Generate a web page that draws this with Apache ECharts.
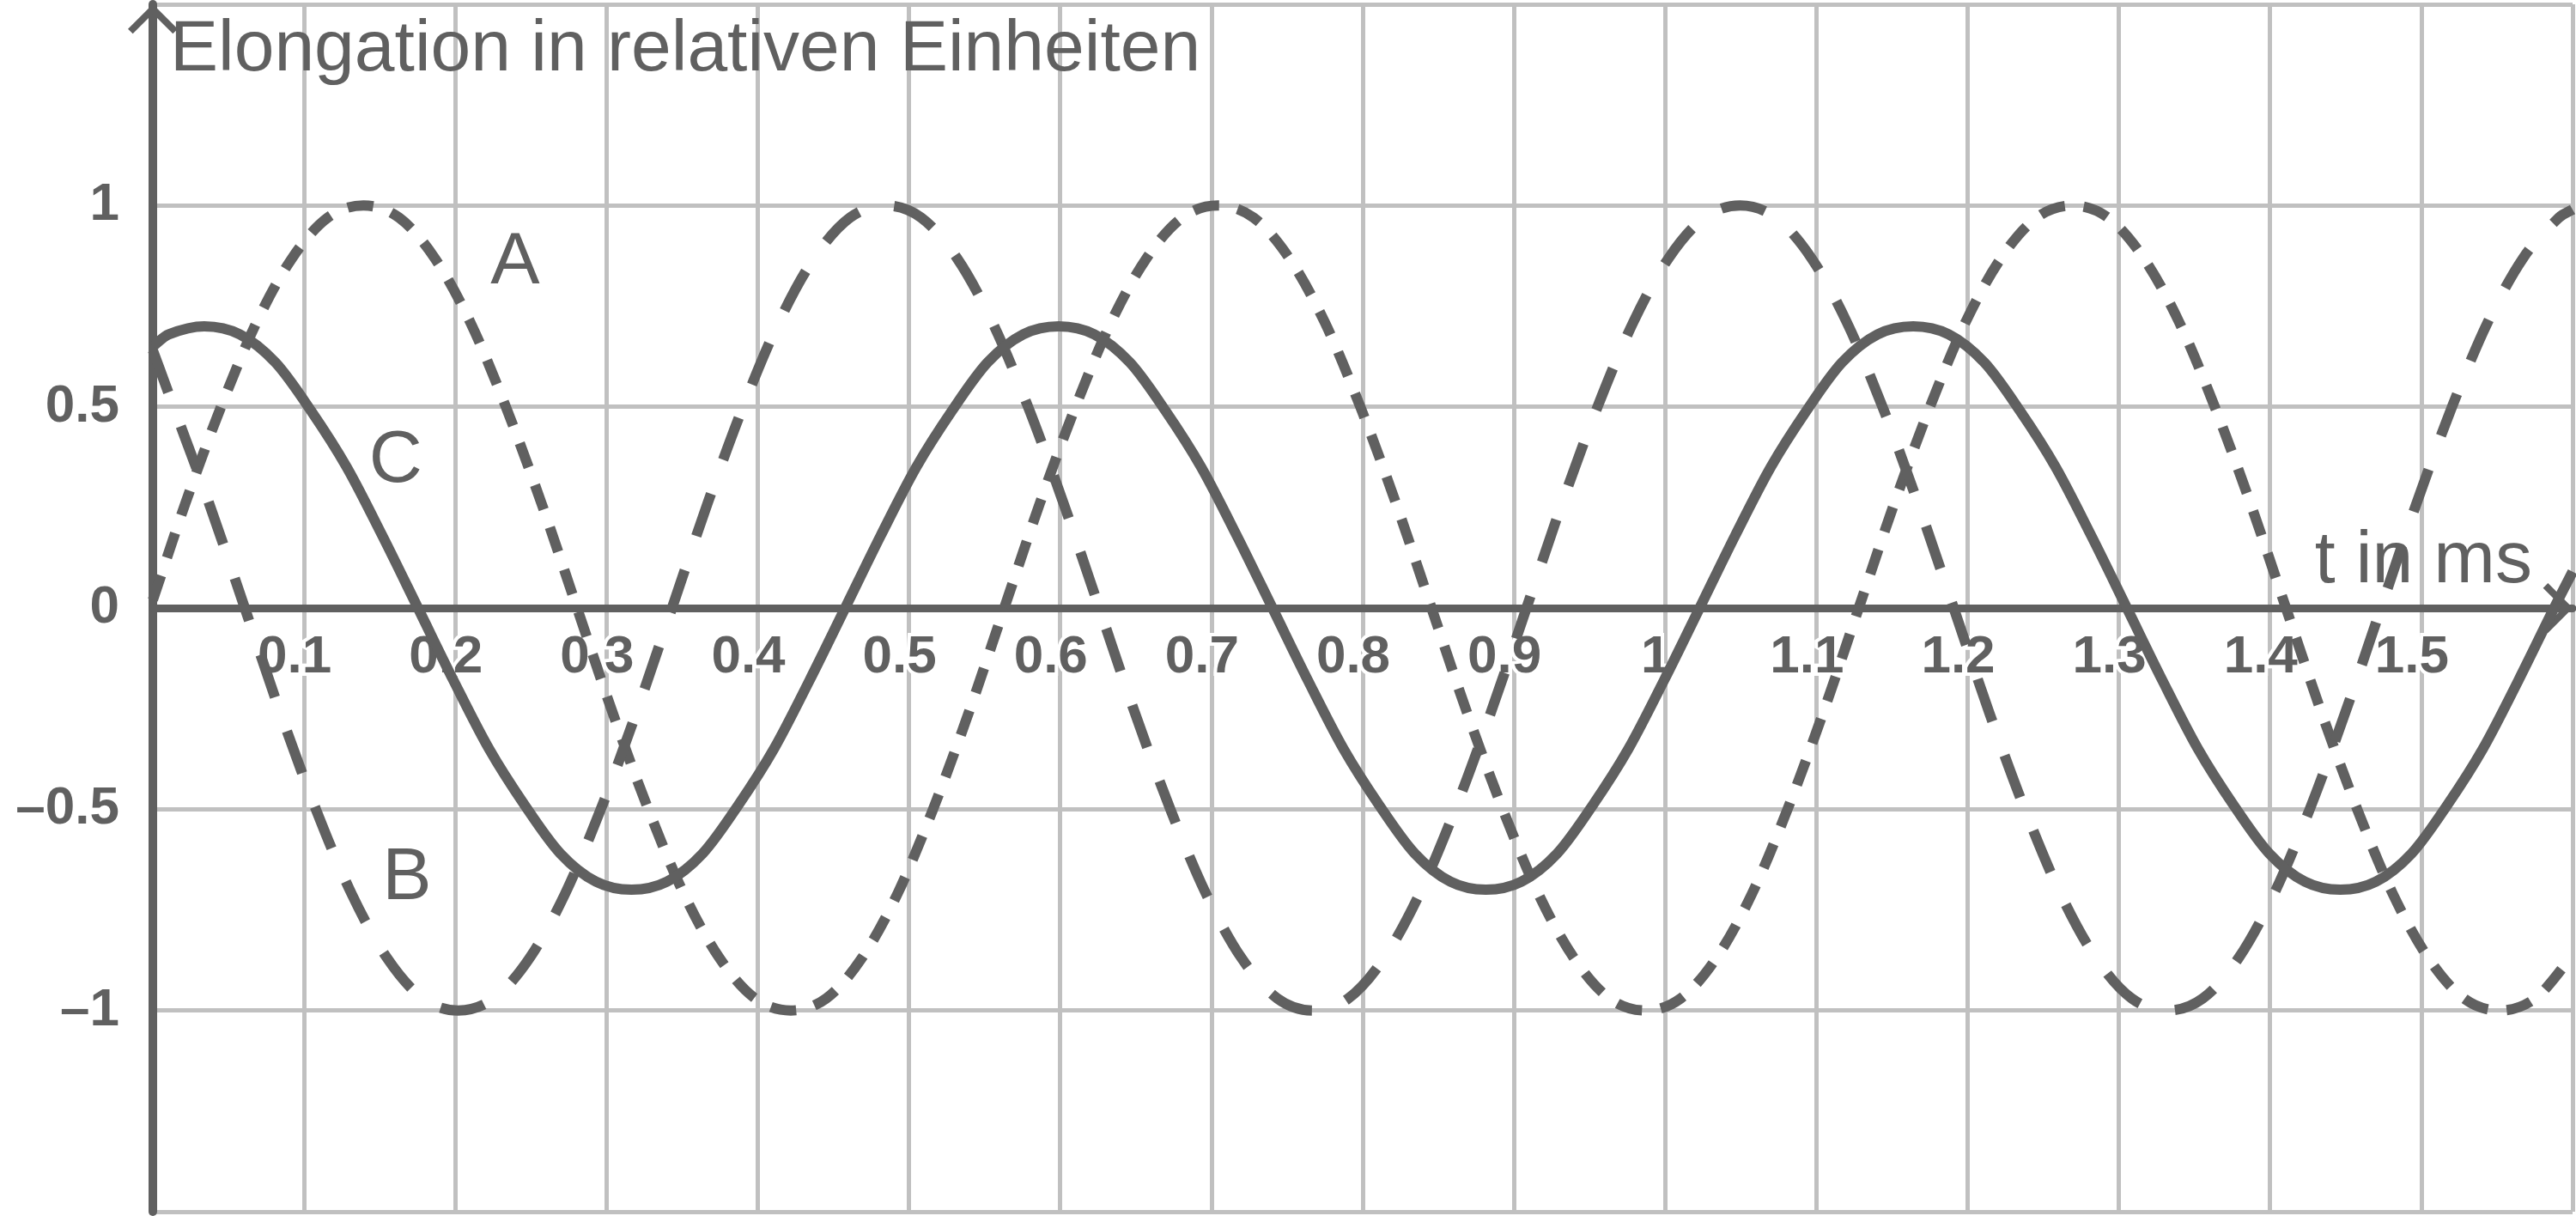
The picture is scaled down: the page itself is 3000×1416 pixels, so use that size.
<!DOCTYPE html>
<html>
<head>
<meta charset="utf-8">
<script src="https://cdn.jsdelivr.net/npm/echarts@6/dist/echarts.min.js"></script>
<style>
  html, body { margin: 0; padding: 0; background: #ffffff; }
  #chart { width: 3000px; height: 1416px; }
</style>
</head>
<body>
<div id="chart"></div>
<script>
// Curve A (short dashes): sample times (ms) and elongation
var timesA = [0,0.0215,0.0451,0.0686,0.0922,0.1157,0.1393,0.1628,0.1863,0.2099,0.2334,0.2570,0.2805,0.3040,0.3276,0.3511,
  0.3747,0.3982,0.4218,0.4453,0.4688,0.4924,0.5159,0.5395,0.5630,0.5865,0.6101,0.6336,0.6572,0.6807,0.7043,0.7278,
  0.7513,0.7749,0.7984,0.8220,0.8455,0.8690,0.8926,0.9161,0.9397,0.9632,0.9868,1.0103,1.0338,1.0574,1.0809,1.1045,
  1.1280,1.1515,1.1751,1.1986,1.2222,1.2457,1.2693,1.2928,1.3163,1.3399,1.3634,1.3870,1.4105,1.4340,1.4576,1.4811,
  1.5047,1.5282,1.5518,1.5753,1.5988];
var valuesA = [0.02,
  0.26,0.5,0.71,0.87,0.97,1,0.97,0.87,0.71,0.5,0.26,0,-0.26,-0.5,-0.71,-0.87,-0.97,-1,-0.97,-0.87,-0.71,-0.5,-0.26,0,
  0.26,0.5,0.71,0.87,0.97,1,0.97,0.87,0.71,0.5,0.26,0,-0.26,-0.5,-0.71,-0.87,-0.97,-1,-0.97,-0.87,-0.71,-0.5,-0.26,0,
  0.26,0.5,0.71,0.87,0.97,1,0.97,0.87,0.71,0.5,0.26,0,-0.26,-0.5,-0.71,-0.87,-0.97,-1,-0.97,-0.87];

// Curve B (long dashes)
var timesB = [0,0.0137,0.0372,0.0608,0.0843,0.1078,0.1314,0.1549,0.1785,
  0.2020,0.2255,0.2491,0.2726,0.2962,0.3197,0.3433,0.3668,0.3903,0.4139,0.4374,0.4610,0.4845,0.5080,0.5316,0.5551,
  0.5787,0.6022,0.6258,0.6493,0.6728,0.6964,0.7199,0.7435,0.7670,0.7905,0.8141,0.8376,0.8612,0.8847,0.9083,0.9318,
  0.9553,0.9789,1.0024,1.0260,1.0495,1.0730,1.0966,1.1201,1.1437,1.1672,1.1908,1.2143,1.2378,1.2614,1.2849,1.3085,
  1.3320,1.3555,1.3791,1.4026,1.4262,1.4497,1.4733,1.4968,1.5203,1.5439,1.5674,1.5910,1.6];
var valuesB = [0.64,0.5,0.26,0,-0.26,-0.5,-0.71,-0.87,-0.97,
  -1,-0.97,-0.87,-0.71,-0.5,-0.26,0,0.26,0.5,0.71,0.87,0.97,1,0.97,0.87,0.71,0.5,0.26,0,-0.26,-0.5,-0.71,-0.87,-0.97,
  -1,-0.97,-0.87,-0.71,-0.5,-0.26,0,0.26,0.5,0.71,0.87,0.97,1,0.97,0.87,0.71,0.5,0.26,0,-0.26,-0.5,-0.71,-0.87,-0.97,
  -1,-0.97,-0.87,-0.71,-0.5,-0.26,0,0.26,0.5,0.71,0.87,0.97,0.99];

// Curve C (solid)
var timesC = [0,0.0105,
  0.0340,0.0575,0.0811,0.1046,0.1282,0.1517,0.1753,0.1988,0.2223,0.2459,0.2694,0.2930,0.3165,0.3400,0.3636,0.3871,
  0.4107,0.4342,0.4578,0.4813,0.5048,0.5284,0.5519,0.5755,0.5990,0.6225,0.6461,0.6696,0.6932,0.7167,0.7403,0.7638,
  0.7873,0.8109,0.8344,0.8580,0.8815,0.9050,0.9286,0.9521,0.9757,0.9992,1.0228,1.0463,1.0698,1.0934,1.1169,1.1405,
  1.1640,1.1875,1.2111,1.2346,1.2582,1.2817,1.3053,1.3288,1.3523,1.3759,1.3994,1.4230,1.4465,1.4700,1.4936,1.5171,
  1.5407,1.5642,1.5878,1.6];
var valuesC = [0.65,0.68,
  0.7,0.68,0.61,0.49,0.35,0.18,0,-0.18,-0.35,-0.49,-0.61,-0.68,-0.7,-0.68,-0.61,-0.49,-0.35,-0.18,0,0.18,0.35,0.49,0.61,0.68,
  0.7,0.68,0.61,0.49,0.35,0.18,0,-0.18,-0.35,-0.49,-0.61,-0.68,-0.7,-0.68,-0.61,-0.49,-0.35,-0.18,0,0.18,0.35,0.49,0.61,0.68,
  0.7,0.68,0.61,0.49,0.35,0.18,0,-0.18,-0.35,-0.49,-0.61,-0.68,-0.7,-0.68,-0.61,-0.49,-0.35,-0.18,0,0.09];

// In-plot annotations (data coordinates)
var noteTexts = ['A', 'B', 'C', 't in ms'];
var noteT = [0.2395, 0.168, 0.1606, 1.5014];
var noteV = [0.858, -0.672, 0.3635, 0.115];
var titleText = 'Elongation in relativen Einheiten';

var INK = '#606060';
var GRIDC = '#c0c0c0';
var FONT = "'Liberation Sans', Arial, Helvetica, sans-serif";
var arrowPath = 'path://M29,0 L58,29 L52.3,34.7 L29,11.4 L5.7,34.7 L0,29 Z';
var GRID_TOP = 5, GRID_BOTTOM = 5, H = 1416;

// Smooth curve through the pixel positions of the data points (cubic Hermite in x)
function smoothPath(pts) {
  var n = pts.length, m = [], i;
  for (i = 0; i < n; i++) {
    var a = pts[Math.max(i - 1, 0)], b = pts[Math.min(i + 1, n - 1)];
    m.push((b[1] - a[1]) / (b[0] - a[0]));
  }
  var d = 'M' + pts[0][0] + ' ' + pts[0][1];
  for (i = 0; i < n - 1; i++) {
    var h = (pts[i + 1][0] - pts[i][0]) / 3;
    d += ' C' + (pts[i][0] + h) + ' ' + (pts[i][1] + m[i] * h) + ' ' +
      (pts[i + 1][0] - h) + ' ' + (pts[i + 1][1] - m[i + 1] * h) + ' ' +
      pts[i + 1][0] + ' ' + pts[i + 1][1];
  }
  return d;
}

function curveSeries(name, ts, vs, dash) {
  return {
    name: name, type: 'custom', z: 3, silent: true, clip: false,
    data: ts.map(function (t, i) { return [t, vs[i]]; }),
    encode: { x: 0, y: 1 },
    renderItem: function (params, api) {
      if (params.dataIndex !== 0) return null;
      var pts = ts.map(function (t, i) { return api.coord([t, vs[i]]); });
      return {
        type: 'path',
        shape: { pathData: smoothPath(pts) },
        style: { fill: 'none', stroke: INK, lineWidth: 12, lineDash: dash, lineCap: 'butt', lineJoin: 'round' }
      };
    }
  };
}

var chart = echarts.init(document.getElementById('chart'), null, { renderer: 'canvas' });
chart.setOption({
  backgroundColor: '#ffffff',
  animation: false,
  title: {
    text: titleText,
    left: 198, top: 17, padding: 0,
    textStyle: { fontFamily: FONT, fontSize: 84, fontWeight: 'normal', color: INK }
  },
  grid: { left: 178, right: 4, top: GRID_TOP, bottom: GRID_BOTTOM, containLabel: false, outerBoundsMode: 'none' },
  xAxis: {
    type: 'value', min: 0, max: 1.6, interval: 0.1,
    position: 'bottom',
    // axis sits on the y = 0 line (middle of the symmetric -1.5..1.5 range)
    offset: -(H - GRID_TOP - GRID_BOTTOM) / 2,
    axisLine: { show: true, onZero: false, lineStyle: { color: INK, width: 9 },
      symbol: ['none', arrowPath], symbolSize: [58, 35], symbolOffset: [0, -17] },
    axisTick: { show: false },
    splitLine: { show: true, lineStyle: { color: GRIDC, width: 5 } },
    axisLabel: {
      margin: 27, fontFamily: FONT, fontSize: 62, fontWeight: 'bold', color: INK,
      padding: [0, 22, 0, 0], textBorderColor: '#ffffff', textBorderWidth: 8,
      formatter: function (v) {
        if (v < 0.05 || v > 1.55) return '';
        return String(Math.round(v * 10) / 10);
      }
    }
  },
  yAxis: {
    type: 'value', min: -1.5, max: 1.5, interval: 0.5,
    axisLine: { show: true, onZero: false, lineStyle: { color: INK, width: 10 },
      symbol: ['none', arrowPath], symbolSize: [58, 35], symbolOffset: [0, -17] },
    axisTick: { show: false },
    splitLine: { show: true, lineStyle: { color: GRIDC, width: 5 } },
    axisLabel: {
      margin: 39, fontFamily: FONT, fontSize: 62, fontWeight: 'bold', color: INK,
      formatter: function (v) {
        if (Math.abs(v) > 1.2) return '';
        var s = String(Math.abs(v));
        return v < 0 ? '\u2013' + s : s;
      }
    }
  },
  series: [
    curveSeries('A', timesA, valuesA, [30, 22]),
    curveSeries('B', timesB, valuesB, [52, 42]),
    curveSeries('C', timesC, valuesC, null)
  ]
});

// Text annotations placed through the chart's own scales
var notes = noteTexts.map(function (s, i) {
  var p = chart.convertToPixel({ gridIndex: 0 }, [noteT[i], noteV[i]]);
  return {
    type: 'text', x: p[0], y: p[1], z: 1, silent: true,
    style: { text: s, fill: INK, fontFamily: FONT, fontSize: 86, fontWeight: 'normal',
      align: 'center', verticalAlign: 'middle' }
  };
});
chart.setOption({ graphic: notes });
</script>
</body>
</html>
